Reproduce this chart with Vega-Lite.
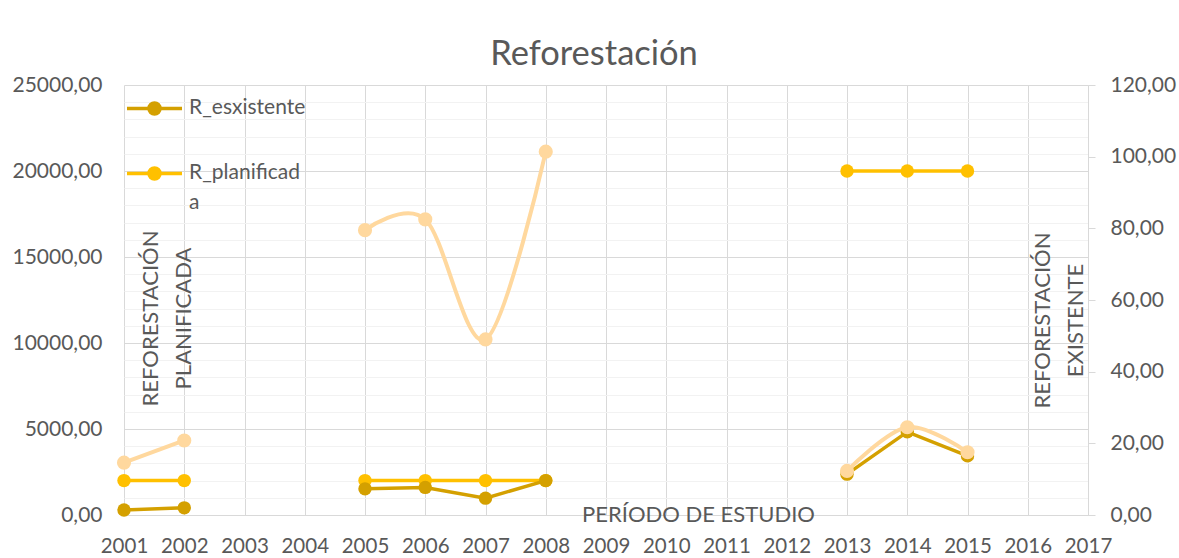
{
  "$schema": "https://vega.github.io/schema/vega-lite/v6.json",
  "width": 964,
  "height": 430,
  "autosize": {"type": "none"},
  "padding": {"left": 124, "top": 85, "right": 91, "bottom": 43},
  "background": "white",
  "title": {"text": "Reforestación", "fontSize": 34.5, "font": "Lato", "fontWeight": "normal", "color": "#595959", "anchor": "middle", "offset": 2, "dx": -12},
  "data": {"values": [
    {"serie": "R_esxistente", "anio": 2001, "valor": 1.4, "tramo": 1},
    {"serie": "R_esxistente", "anio": 2002, "valor": 2.0, "tramo": 1},
    {"serie": "R_esxistente", "anio": 2005, "valor": 7.3, "tramo": 2},
    {"serie": "R_esxistente", "anio": 2006, "valor": 7.7, "tramo": 2},
    {"serie": "R_esxistente", "anio": 2007, "valor": 4.7, "tramo": 2},
    {"serie": "R_esxistente", "anio": 2008, "valor": 9.6, "tramo": 2},
    {"serie": "R_esxistente", "anio": 2013, "valor": 11.4, "tramo": 3},
    {"serie": "R_esxistente", "anio": 2014, "valor": 23.2, "tramo": 3},
    {"serie": "R_esxistente", "anio": 2015, "valor": 16.5, "tramo": 3},
    {"serie": "R_planificada", "anio": 2001, "valor": 2000, "tramo": 1},
    {"serie": "R_planificada", "anio": 2002, "valor": 2000, "tramo": 1},
    {"serie": "R_planificada", "anio": 2005, "valor": 2000, "tramo": 2},
    {"serie": "R_planificada", "anio": 2006, "valor": 2000, "tramo": 2},
    {"serie": "R_planificada", "anio": 2007, "valor": 2000, "tramo": 2},
    {"serie": "R_planificada", "anio": 2008, "valor": 2000, "tramo": 2},
    {"serie": "R_planificada", "anio": 2013, "valor": 20000, "tramo": 3},
    {"serie": "R_planificada", "anio": 2014, "valor": 20000, "tramo": 3},
    {"serie": "R_planificada", "anio": 2015, "valor": 20000, "tramo": 3},
    {"serie": "Serie3", "anio": 2001, "valor": 14.6, "tramo": 1},
    {"serie": "Serie3", "anio": 2002, "valor": 20.8, "tramo": 1},
    {"serie": "Serie3", "anio": 2005, "valor": 79.5, "tramo": 2},
    {"serie": "Serie3", "anio": 2006, "valor": 82.5, "tramo": 2},
    {"serie": "Serie3", "anio": 2007, "valor": 49.0, "tramo": 2},
    {"serie": "Serie3", "anio": 2008, "valor": 101.4, "tramo": 2},
    {"serie": "Serie3", "anio": 2013, "valor": 12.3, "tramo": 3},
    {"serie": "Serie3", "anio": 2014, "valor": 24.5, "tramo": 3},
    {"serie": "Serie3", "anio": 2015, "valor": 17.5, "tramo": 3}
  ]},
  "encoding": {
    "x": {
      "field": "anio", "type": "quantitative",
      "scale": {"domain": [2001, 2017], "nice": false, "zero": false},
      "axis": {
        "values": [2001, 2002, 2003, 2004, 2005, 2006, 2007, 2008, 2009, 2010, 2011, 2012, 2013, 2014, 2015, 2016, 2017],
        "format": "d", "grid": true, "gridColor": "#D9D9D9", "gridWidth": 1,
        "domain": true, "domainColor": "#D9D9D9", "ticks": false,
        "labelFont": "Lato", "labelFontSize": 20.5, "labelColor": "#595959", "labelPadding": 21,
        "labelFlush": false, "labelOverlap": false,
        "title": "PERÍODO DE ESTUDIO", "titleFont": "Lato", "titleFontSize": 22, "titleFontWeight": "normal",
        "titleColor": "#595959", "titleX": 574, "titleY": 6, "titleBaseline": "alphabetic", "titleAlign": "center"
      }
    },
    "detail": {"field": "tramo", "type": "nominal"}
  },
  "layer": [
    {
      "transform": [{"filter": "datum.serie === 'R_planificada'"}],
      "encoding": {
        "y": {
          "field": "valor", "type": "quantitative",
          "scale": {"domain": [0, 25000], "nice": false},
          "axis": {
            "orient": "left",
            "values": [0, 1000, 2000, 3000, 4000, 5000, 6000, 7000, 8000, 9000, 10000, 11000, 12000, 13000, 14000, 15000, 16000, 17000, 18000, 19000, 20000, 21000, 22000, 23000, 24000, 25000],
            "grid": true,
            "gridColor": {"condition": {"test": "datum.value % 5000 === 0", "value": "#D9D9D9"}, "value": "#F2F2F2"},
            "domain": false, "ticks": false,
            "labelExpr": "datum.value % 5000 === 0 ? replace(format(datum.value, '.2f'), '.', ',') : ''",
            "labelFont": "Lato", "labelFontSize": 21, "labelColor": "#595959", "labelPadding": 22,
            "labelOverlap": false, "labelFlush": false,
            "title": ["REFORESTACIÓN", "PLANIFICADA"],
            "titleFont": "Lato", "titleFontSize": 22, "titleFontWeight": "normal", "titleColor": "#595959",
            "titleAngle": -90, "titleX": 16, "titleY": 233, "titleAlign": "center", "titleBaseline": "top", "titleLineHeight": 33
          }
        },
        "color": {
          "field": "serie", "type": "nominal",
          "scale": {"domain": ["R_esxistente", "R_planificada"], "range": ["#D4A000", "#FFC000"]},
          "legend": {
            "orient": "none", "legendX": 1, "legendY": -6, "direction": "vertical", "title": null,
            "symbolType": "M-1,0L1,0M0.2,0A0.2,0.2,0,1,1,-0.2,0A0.2,0.2,0,1,1,0.2,0",
            "symbolSize": 3025, "symbolStrokeWidth": 3.5,
            "labelFont": "Lato", "labelFontSize": 21, "labelColor": "#595959", "labelOffset": 5,
            "labelExpr": "datum.label === 'R_planificada' ? ['R_planificad', 'a'] : datum.label",
            "labelBaseline": "top", "rowPadding": 23, "labelLimit": 300,
            "encode": {
              "symbols": {"update": {"fill": {"scale": "color", "field": "value"}, "stroke": {"scale": "color", "field": "value"}, "opacity": {"value": 1}}},
              "labels": {"update": {"dy": {"value": -12}, "lineHeight": {"value": 30}}}
            }
          }
        }
      },
      "layer": [
        {"mark": {"type": "line", "strokeWidth": 3.5}},
        {"mark": {"type": "point", "filled": true, "size": 180, "opacity": 1}}
      ]
    },
    {
      "encoding": {
        "y": {
          "field": "valor", "type": "quantitative",
          "scale": {"domain": [0, 120], "nice": false},
          "axis": {
            "orient": "right",
            "values": [0, 20, 40, 60, 80, 100, 120],
            "grid": false,
            "domain": true, "domainColor": "#D9D9D9", "ticks": true, "tickSize": 7, "tickColor": "#D9D9D9",
            "labelExpr": "replace(format(datum.value, '.2f'), '.', ',')",
            "labelFont": "Lato", "labelFontSize": 21, "labelColor": "#595959", "labelPadding": 15,
            "labelOverlap": false, "labelFlush": false,
            "title": ["REFORESTACIÓN", "EXISTENTE"],
            "titleFont": "Lato", "titleFontSize": 22, "titleFontWeight": "normal", "titleColor": "#595959",
            "titleAngle": -90, "titleX": -56, "titleY": 235, "titleAlign": "center", "titleBaseline": "top", "titleLineHeight": 33
          }
        }
      },
      "layer": [
        {
          "transform": [{"filter": "datum.serie === 'R_esxistente'"}],
          "encoding": {"color": {"field": "serie", "type": "nominal"}},
          "layer": [
            {"mark": {"type": "line", "strokeWidth": 3.5}},
            {"mark": {"type": "point", "filled": true, "size": 180, "opacity": 1}}
          ]
        },
        {
          "transform": [{"filter": "datum.serie === 'Serie3'"}],
          "layer": [
            {"mark": {"type": "line", "strokeWidth": 4, "interpolate": "cardinal", "color": "#FFD89E"}},
            {"mark": {"type": "point", "filled": true, "size": 200, "opacity": 1, "color": "#FFD89E"}}
          ]
        }
      ]
    }
  ],
  "resolve": {"scale": {"y": "independent"}},
  "config": {"view": {"stroke": null}, "font": "Lato"}
}
